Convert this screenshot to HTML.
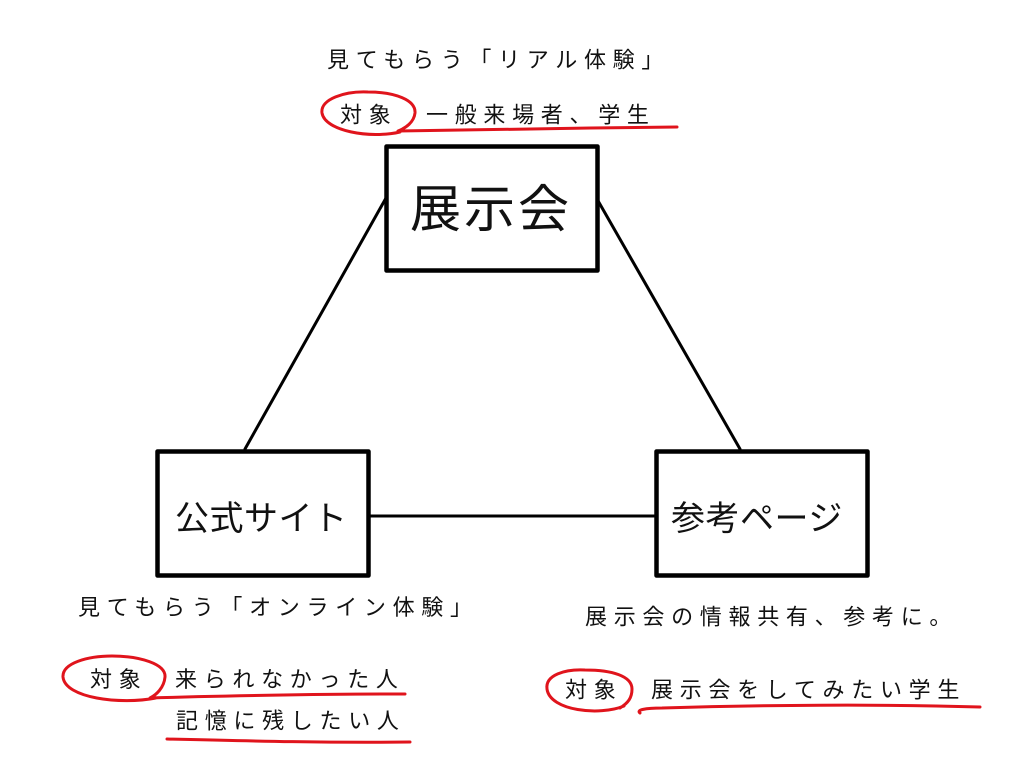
<!DOCTYPE html>
<html>
<head>
<meta charset="utf-8">
<style>
html,body{margin:0;padding:0;background:#fff;}
svg{display:block;}
text{font-family:"Liberation Sans","Noto Sans CJK JP",sans-serif;fill:#111;}
.s{font-size:22px;letter-spacing:6.7px;}
</style>
</head>
<body>
<svg width="1024" height="768" viewBox="0 0 1024 768" xmlns="http://www.w3.org/2000/svg">
<rect x="0" y="0" width="1024" height="768" fill="#fff"/>

<!-- connectors -->
<g stroke="#000" stroke-width="3" fill="none" stroke-linecap="round">
<line x1="386" y1="198" x2="245" y2="449"/>
<line x1="597" y1="199" x2="740" y2="449"/>
<line x1="370" y1="516" x2="654" y2="516"/>
</g>

<!-- boxes -->
<g stroke="#000" stroke-width="4.5" fill="#fff" stroke-linejoin="round">
<rect x="386.5" y="146.5" width="211" height="124"/>
<rect x="157.5" y="451.5" width="211" height="124"/>
<rect x="656.5" y="451.5" width="211" height="124"/>
</g>

<!-- box labels -->
<text x="410" y="227" style="font-size:51px;letter-spacing:3px;">展示会</text>
<text x="175" y="530" style="font-size:34px;letter-spacing:0.5px;">公式サイト</text>
<text x="671" y="530" style="font-size:34px;letter-spacing:0.5px;">参考ページ</text>

<!-- top notes -->
<text class="s" x="327" y="67.5">見てもらう「リアル体験」</text>
<text class="s" x="340" y="122.5">対象</text>
<text class="s" x="426" y="122.5">一般来場者、学生</text>

<!-- bottom-left notes -->
<text class="s" x="78" y="615">見てもらう「オンライン体験」</text>
<text class="s" x="90" y="687">対象</text>
<text class="s" x="175" y="687">来られなかった人</text>
<text class="s" x="176" y="728.5">記憶に残したい人</text>

<!-- bottom-right notes -->
<text class="s" x="585" y="624.5">展示会の情報共有、参考に。</text>
<text class="s" x="565" y="697.5">対象</text>
<text class="s" x="651" y="697.5">展示会をしてみたい学生</text>

<!-- red annotations -->
<g stroke="#e0141c" stroke-width="3" fill="none" stroke-linecap="round" stroke-linejoin="round">
<path d="M 400 132 C 370 139, 325 131, 322 113 C 320 99, 345 91, 368 92 C 395 92, 416 100, 415 113 C 414 122, 406 128, 398 131 C 460 130, 580 128, 677 127"/>
<path d="M 156 698 C 120 705, 65 698, 63 677 C 62 663, 88 656, 112 656 C 140 656, 166 664, 165 677 C 164 688, 156 695, 150 698 C 210 696, 320 694, 405 694"/>
<path d="M 167 739 C 250 741, 330 743, 410 742"/>
<path d="M 624 706 C 600 716, 550 711, 547 689 C 545 675, 565 669, 585 670 C 612 670, 632 676, 632 689 C 632 698, 628 703, 620 708"/>
<path d="M 640 713 C 636 710, 645 708, 662 708 C 760 705, 880 704, 980 707"/>
</g>
</svg>
</body>
</html>
